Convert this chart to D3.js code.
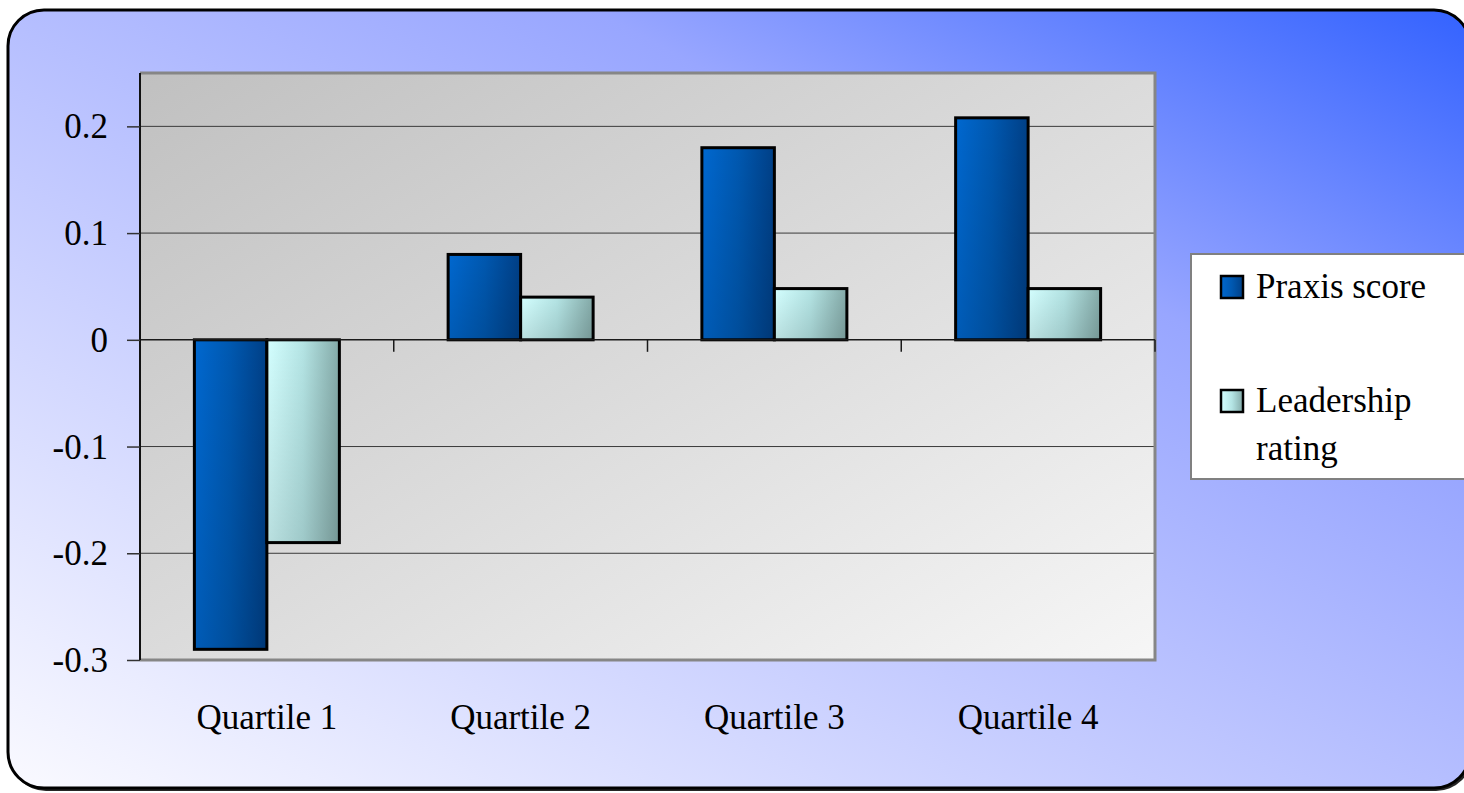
<!DOCTYPE html>
<html>
<head>
<meta charset="utf-8">
<script src="https://cdn.jsdelivr.net/npm/d3@7"></script>
<style>
  html, body { margin: 0; padding: 0; background: #ffffff; overflow: hidden; }
  svg { display: block; }
  svg text { font-family: "Liberation Serif", "Times New Roman", serif; fill: #000; }
</style>
</head>
<body>
<svg id="chart" width="1464" height="793" font-family="Liberation Serif, Times New Roman, serif"></svg>
<script>
// Chart data
const categories = ["Quartile 1", "Quartile 2", "Quartile 3", "Quartile 4"];
const seriesNames = ["Praxis score", "Leadership rating"];
const praxisScore = [-0.29, 0.08, 0.18, 0.208];
const leadershipRating = [-0.19, 0.04, 0.048, 0.048];
const yTicks = [-0.3, -0.2, -0.1, 0, 0.1, 0.2];
const yTickLabels = ["-0.3", "-0.2", "-0.1", "0", "0.1", "0.2"];

const plot = { left: 140, right: 1155, top: 73, bottom: 660 };

const svg = d3.select("#chart");
const defs = svg.append("defs");

// Background gradient: pale lavender bottom-left to strong blue top-right
const bg = defs.append("linearGradient").attr("id", "bgGrad")
  .attr("x1", 0).attr("y1", 1).attr("x2", 1).attr("y2", 0);
[[0, "#fafaff"], [0.45, "#bcc4ff"], [0.7, "#98a6ff"], [1, "#3362ff"]]
  .forEach(([o, c]) => bg.append("stop").attr("offset", o).attr("stop-color", c));

// Plot area gradient: mid gray top-left to near white bottom-right
const pg = defs.append("linearGradient").attr("id", "plotGrad")
  .attr("x1", 0).attr("y1", 0).attr("x2", 1).attr("y2", 1);
[[0, "#c0c0c0"], [1, "#f6f6f6"]]
  .forEach(([o, c]) => pg.append("stop").attr("offset", o).attr("stop-color", c));

// Bar fills: horizontal shading plus a vertical darkening overlay
function barGradient(id, left, mid, right) {
  const g = defs.append("linearGradient").attr("id", id)
    .attr("x1", 0).attr("y1", 0).attr("x2", 1).attr("y2", 0);
  g.append("stop").attr("offset", 0).attr("stop-color", left);
  g.append("stop").attr("offset", 0.5).attr("stop-color", mid);
  g.append("stop").attr("offset", 1).attr("stop-color", right);
}
barGradient("praxisGrad", "#0068d0", "#0058b0", "#003f86");
barGradient("leaderGrad", "#d4ffff", "#b4e4e4", "#84aaa8");
const shade = defs.append("linearGradient").attr("id", "shadeGrad")
  .attr("x1", 0).attr("y1", 0).attr("x2", 0).attr("y2", 1);
shade.append("stop").attr("offset", 0).attr("stop-color", "#000").attr("stop-opacity", 0);
shade.append("stop").attr("offset", 1).attr("stop-color", "#000").attr("stop-opacity", 0.12);

// Outer rounded frame with a soft drop shadow
svg.append("rect")
  .attr("x", 10).attr("y", 12).attr("width", 1462).attr("height", 779)
  .attr("rx", 36).attr("ry", 36)
  .attr("fill", "#000").attr("opacity", 0.85);
svg.append("rect")
  .attr("x", 8).attr("y", 10).attr("width", 1462).attr("height", 778)
  .attr("rx", 36).attr("ry", 36)
  .attr("fill", "url(#bgGrad)")
  .attr("stroke", "#000").attr("stroke-width", 3);

// Scales
const x0 = d3.scaleBand().domain(categories)
  .range([plot.left, plot.right]).paddingInner(0).paddingOuter(0);
const x1 = d3.scaleBand().domain(seriesNames)
  .range([0, x0.bandwidth()]).paddingInner(0).paddingOuter(0.75);
const y = d3.scaleLinear().domain([-0.3, 0.25]).range([plot.bottom, plot.top]);

// Plot area
svg.append("rect")
  .attr("x", plot.left).attr("y", plot.top)
  .attr("width", plot.right - plot.left).attr("height", plot.bottom - plot.top)
  .attr("fill", "url(#plotGrad)");

// Gridlines
svg.append("g").selectAll("line").data(yTicks.filter(d => d !== -0.3 && d !== 0))
  .join("line")
  .attr("x1", plot.left).attr("x2", plot.right)
  .attr("y1", d => y(d)).attr("y2", d => y(d))
  .attr("stroke", "#3a3a3a").attr("stroke-width", 1);

// Plot border: gray top/right/bottom
svg.append("path")
  .attr("d", `M${plot.left},${plot.top}H${plot.right}V${plot.bottom}H${plot.left}`)
  .attr("fill", "none").attr("stroke", "#868686").attr("stroke-width", 3);

// Bars
const rows = categories.map((c, i) => ({ cat: c, vals: [praxisScore[i], leadershipRating[i]] }));
const fills = ["url(#praxisGrad)", "url(#leaderGrad)"];
const groups = svg.append("g").selectAll("g").data(rows).join("g")
  .attr("transform", d => `translate(${x0(d.cat)},0)`);
groups.selectAll("g.bar")
  .data(d => d.vals.map((v, k) => ({ name: seriesNames[k], v, k })))
  .join("g").attr("class", "bar")
  .each(function (d) {
    const g = d3.select(this);
    const bx = x1(d.name), bw = x1.bandwidth();
    const by = Math.min(y(d.v), y(0)), bh = Math.abs(y(d.v) - y(0));
    g.append("rect").attr("x", bx).attr("y", by).attr("width", bw).attr("height", bh)
      .attr("fill", fills[d.k]);
    g.append("rect").attr("x", bx).attr("y", by).attr("width", bw).attr("height", bh)
      .attr("fill", "url(#shadeGrad)")
      .attr("stroke", "#000").attr("stroke-width", 3);
  });

// Zero line with category tick marks
svg.append("line")
  .attr("x1", plot.left).attr("x2", plot.right)
  .attr("y1", y(0)).attr("y2", y(0))
  .attr("stroke", "#1a1a1a").attr("stroke-width", 1.5);
svg.append("g").selectAll("line")
  .data(categories.map(c => x0(c) + x0.bandwidth()))
  .join("line")
  .attr("x1", d => d).attr("x2", d => d)
  .attr("y1", y(0)).attr("y2", y(0) + 12)
  .attr("stroke", "#1a1a1a").attr("stroke-width", 1.5);

// Y axis
const yAxis = d3.axisLeft(y).tickValues(yTicks).tickSize(13).tickPadding(19)
  .tickFormat((d, i) => yTickLabels[i]);
const ya = svg.append("g").attr("transform", `translate(${plot.left},0)`).call(yAxis)
  .attr("font-family", null).attr("font-size", null);
ya.select(".domain").attr("stroke", "#111").attr("stroke-width", 2)
  .attr("d", `M0,${plot.top}V${plot.bottom}`);
ya.selectAll(".tick line").attr("stroke", "#333").attr("stroke-width", 1.5);
ya.selectAll(".tick text")
  .attr("font-size", 35).attr("fill", "#000").attr("dy", "0.33em");

// Category labels
svg.append("g").selectAll("text").data(categories).join("text")
  .attr("x", d => x0(d) + x0.bandwidth() / 2)
  .attr("y", 729)
  .attr("text-anchor", "middle")
  .attr("font-size", 35)
  .text(d => d);

// Legend
const lg = svg.append("g");
lg.append("rect").attr("x", 1191).attr("y", 254).attr("width", 300).attr("height", 225)
  .attr("fill", "#ffffff").attr("stroke", "#808080").attr("stroke-width", 2);
const legendRows = [
  { lines: ["Praxis score"], y: 298, fill: fills[0] },
  { lines: ["Leadership", "rating"], y: 412, fill: fills[1] }
];
legendRows.forEach(r => {
  lg.append("rect").attr("x", 1221).attr("y", r.y - 22).attr("width", 22).attr("height", 22)
    .attr("fill", r.fill).attr("stroke", "#000").attr("stroke-width", 2.5);
  const t = lg.append("text").attr("x", 1256).attr("y", r.y).attr("font-size", 35);
  r.lines.forEach((ln, i) => t.append("tspan").attr("x", 1256).attr("dy", i ? 48 : 0).text(ln));
});
</script>
</body>
</html>
